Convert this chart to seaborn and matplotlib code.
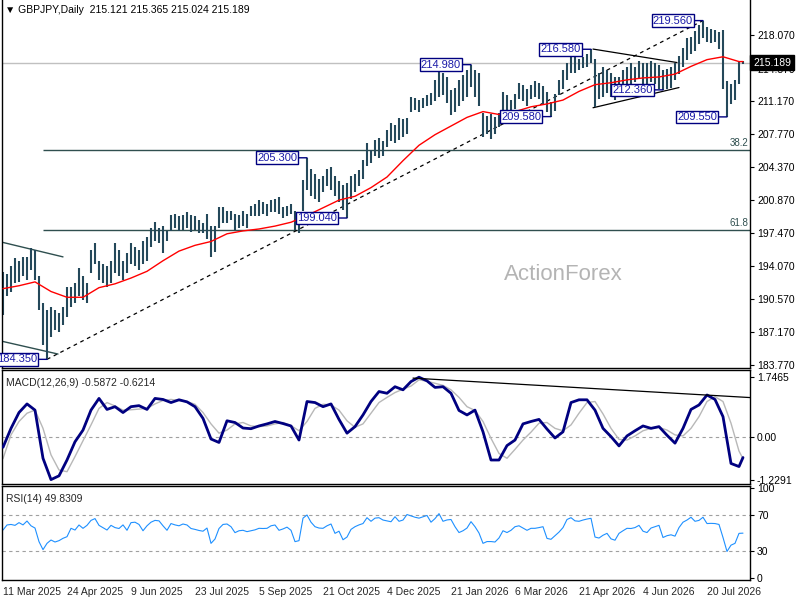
import numpy as np
import pandas as pd
import matplotlib
matplotlib.use('Agg')
import matplotlib.pyplot as plt
import matplotlib.transforms as mtransforms
import seaborn as sns

symbol = 'GBPJPY,Daily'
last_ohlc = [215.121, 215.365, 215.024, 215.189]

# one bar for every second trading day, 11 Mar 2025 .. Aug 2026
bar_high = [
    193.4, 193.2, 194.0, 194.9, 194.6, 195.0, 195.0, 195.9, 195.7, 193.0,
    190.2, 189.5, 189.8, 189.5, 189.2, 189.8, 191.9, 191.9, 192.3, 193.8,
    193.0, 192.3, 195.7, 196.4, 194.6, 194.3, 194.0, 194.6, 196.4, 195.7,
    194.6, 195.4, 196.4, 196.0, 195.7, 196.7, 197.1, 198.0, 198.6, 198.0,
    198.2, 197.7, 199.4, 199.5, 199.2, 199.4, 199.7, 199.4, 199.2, 198.8,
    198.5, 199.5, 198.2, 198.2, 200.2, 200.2, 199.8, 199.8, 199.5, 199.4,
    199.8, 199.5, 200.3, 200.5, 200.9, 200.7, 200.5, 200.9, 201.0, 201.2,
    200.2, 200.3, 200.5, 199.8, 199.5, 203.0, 205.3, 204.1, 203.6, 203.1,
    203.4, 204.1, 204.3, 203.4, 202.9, 202.5, 202.7, 203.4, 203.6, 204.0,
    205.1, 206.8, 206.1, 207.2, 207.4, 207.0, 208.2, 208.9, 208.7, 209.4,
    209.3, 209.4, 211.6, 211.5, 211.3, 211.5, 211.8, 212.0, 213.4, 214.4,
    214.1, 213.7, 212.3, 212.6, 213.4, 213.9, 214.4, 214.98, 214.4, 214.1,
    210.0, 209.6, 209.8, 209.5, 210.0, 212.1, 211.8, 211.3, 211.9, 213.1,
    212.9, 212.4, 212.9, 213.3, 213.1, 212.8, 212.1, 211.1, 211.9, 213.4,
    214.4, 215.1, 215.9, 215.8, 215.6, 215.8, 216.1, 216.58, 215.6, 214.1,
    214.7, 214.4, 214.1, 213.7, 213.7, 214.4, 214.7, 215.1, 214.7, 215.4,
    215.2, 215.1, 215.4, 215.2, 214.9, 214.4, 214.5, 214.7, 215.1, 215.9,
    216.7, 217.8, 217.9, 218.5, 219.1, 219.56, 218.9, 218.7, 218.6, 218.4,
    218.6, 213.3, 213.0, 213.4, 215.3, 215.365,
]
bar_low = [
    189.0, 190.9, 191.3, 192.3, 192.4, 193.0, 192.6, 193.6, 192.6, 189.5,
    185.8, 184.35, 186.7, 187.4, 187.2, 187.9, 188.8, 189.8, 190.2, 190.9,
    190.5, 190.2, 193.3, 194.3, 192.6, 192.3, 191.9, 192.3, 193.3, 193.0,
    192.6, 193.3, 194.3, 194.0, 193.6, 194.3, 194.6, 196.0, 196.7, 196.4,
    195.4, 196.7, 197.7, 198.0, 197.7, 197.8, 198.0, 197.6, 197.8, 197.5,
    197.5, 196.9, 195.0, 195.5, 198.0, 198.5, 198.5, 198.8, 197.8, 198.0,
    198.2, 198.0, 199.3, 199.3, 199.2, 199.5, 199.3, 199.7, 199.7, 199.5,
    199.0, 199.3, 199.5, 197.8, 197.5, 199.8, 201.9, 201.3, 201.0, 200.7,
    201.7, 202.4, 202.0, 201.3, 200.7, 199.9, 199.04, 201.0, 201.7, 202.4,
    203.1, 204.4, 204.8, 205.5, 205.3, 205.5, 206.4, 207.0, 206.8, 207.1,
    207.5, 207.8, 210.1, 210.3, 210.1, 210.5, 210.7, 210.8, 211.2, 211.6,
    211.8, 211.0, 209.7, 210.1, 210.7, 211.2, 211.6, 212.7, 211.6, 210.7,
    207.5, 207.8, 207.3, 207.8, 208.5, 209.3, 209.7, 209.0, 210.4, 211.4,
    211.2, 210.7, 211.4, 211.6, 211.4, 210.9, 210.1, 209.58, 210.2, 211.8,
    212.4, 213.4, 214.1, 214.1, 214.4, 214.6, 214.7, 215.1, 210.6, 211.4,
    211.6, 212.0, 211.6, 211.3, 212.0, 212.7, 212.9, 213.0, 213.2, 213.6,
    213.0, 212.7, 213.2, 213.0, 212.5, 212.36, 212.5, 212.6, 213.4, 214.0,
    214.7, 215.5, 216.1, 216.4, 217.1, 217.8, 217.3, 217.2, 217.3, 216.6,
    212.5, 209.55, 210.9, 211.3, 213.0, 215.024,
]
rsi = [
    53.3, 58.9, 59.5, 58.5, 61.5, 59.0, 63.3, 58.0, 55.5, 40.4,
    31.5, 38.5, 42.2, 40.0, 41.5, 44.1, 45.9, 55.2, 53.3, 58.9,
    55.2, 58.5, 64.0, 66.0, 58.5, 55.9, 53.3, 58.5, 56.0, 55.0,
    59.0, 53.0, 61.5, 62.0, 59.5, 52.5, 58.0, 62.0, 64.0, 63.5,
    58.0, 53.0, 60.5, 59.0, 58.0, 60.0, 58.9, 55.0, 54.0, 52.8,
    52.0, 55.5, 38.5, 43.3, 55.0, 59.5, 60.0, 57.0, 50.4, 52.5,
    53.0, 51.5, 52.5, 53.5, 55.2, 55.0, 55.2, 58.0, 58.9, 53.0,
    54.5, 56.5, 53.0, 40.4, 41.5, 66.5, 70.0, 62.0, 57.0, 55.5,
    55.2, 58.0, 60.0, 49.6, 52.0, 42.5, 45.5, 54.0, 57.0, 59.0,
    60.5, 67.0, 63.0, 66.5, 67.0, 64.4, 63.5, 62.5, 68.1, 63.0,
    64.4, 70.5, 69.0, 67.5, 66.5, 68.0, 69.5, 62.0, 66.0, 71.5,
    63.0, 64.5, 65.0, 57.0, 50.5, 52.5, 55.5, 62.6, 57.0, 50.0,
    38.5, 40.5, 40.5, 40.0, 44.5, 52.5, 50.5, 53.0, 57.0, 58.0,
    55.5, 53.0, 55.2, 55.2, 56.0, 57.0, 44.0, 43.0, 47.0, 51.0,
    56.0, 65.0, 67.0, 63.5, 63.0, 64.4, 65.5, 66.3, 45.5, 44.4,
    47.5, 49.6, 43.5, 42.0, 49.6, 52.5, 55.2, 55.0, 56.0, 58.5,
    52.0, 50.5, 55.5, 57.0, 58.5, 45.0, 47.0, 48.0, 46.5, 56.0,
    62.0, 64.4, 67.5, 63.0, 64.0, 67.5, 60.5, 60.7, 60.5, 59.5,
    45.0, 29.5, 36.5, 38.5, 49.6, 49.83,
]
bar_days = list(range(0, 2 * len(bar_high), 2))

# 55 day moving average, read every 8 trading days
ma_vals = [
    191.7, 192.0, 192.4, 191.4, 190.8, 190.8, 191.8, 192.2, 192.8, 193.5,
    194.6, 195.6, 196.2, 196.6, 197.4, 197.7, 197.9, 198.2, 198.6, 199.3,
    200.1, 200.9, 201.3, 202.2, 203.3, 205.0, 206.6, 207.7, 208.6, 209.5,
    210.1, 209.8, 210.1, 210.6, 210.9, 211.3, 212.2, 212.9, 213.1, 213.4,
    213.6, 213.7, 214.0, 214.8, 215.5, 215.8, 215.3, 215.3,
]
ma_days = list(range(0, 369, 8)) + [370]

# MACD(12,26,9), read every 4 trading days
macd_main = [
    -0.29, 0.26, 0.72, 0.97, 0.79, -0.61, -1.2291, -1.12, -0.66, -0.13,
    0.21, 0.79, 1.13, 0.81, 0.89, 0.72, 0.89, 0.92, 0.81, 1.13,
    1.10, 1.01, 1.09, 1.03, 0.89, 0.55, -0.05, -0.15, 0.48, 0.43,
    0.27, 0.25, 0.33, 0.39, 0.46, 0.40, 0.33, -0.08, 1.04, 1.01,
    0.89, 0.97, 0.52, 0.12, 0.31, 0.65, 1.04, 1.33, 1.28, 1.47,
    1.38, 1.62, 1.7465, 1.64, 1.45, 1.47, 1.28, 0.78, 0.65, 0.79,
    0.16, -0.66, -0.66, -0.24, -0.08, 0.39, 0.46, 0.52, 0.24, -0.02,
    0.16, 1.01, 1.09, 1.09, 0.79, 0.26, 0.02, -0.25, 0.04, 0.19,
    0.33, 0.26, 0.31, 0.06, -0.17, 0.26, 0.81, 0.94, 1.23, 1.10,
    0.60, -0.76, -0.85, -0.5872,
]
macd_signal = [
    -0.62, 0.07, 0.46, 0.70, 0.79, 0.26, -0.51, -0.95, -1.00, -0.56,
    -0.10, 0.36, 0.84, 1.01, 0.91, 0.79, 0.80, 0.82, 0.84, 0.97,
    1.07, 1.10, 1.07, 1.04, 0.96, 0.72, 0.39, 0.12, 0.21, 0.39,
    0.43, 0.33, 0.31, 0.33, 0.39, 0.43, 0.34, 0.19, 0.46, 0.84,
    0.96, 0.94, 0.79, 0.48, 0.29, 0.39, 0.70, 1.01, 1.16, 1.30,
    1.40, 1.49, 1.67, 1.63, 1.57, 1.51, 1.38, 1.16, 0.89, 0.78,
    0.46, -0.03, -0.47, -0.61, -0.35, -0.08, 0.15, 0.41, 0.43, 0.26,
    0.19, 0.36, 0.70, 1.01, 1.04, 0.68, 0.26, -0.06, -0.08, 0.04,
    0.19, 0.26, 0.29, 0.21, 0.07, 0.04, 0.26, 0.60, 1.04, 1.18,
    1.04, 0.41, -0.40, -0.6214,
]
macd_days = list(range(0, 369, 4)) + [370]

date_labels = ['11 Mar 2025', '24 Apr 2025', '9 Jun 2025', '23 Jul 2025',
               '5 Sep 2025', '21 Oct 2025', '4 Dec 2025', '21 Jan 2026',
               '6 Mar 2026', '21 Apr 2026', '4 Jun 2026', '20 Jul 2026']
price_ticks = [218.07, 214.57, 211.17, 207.77, 204.37, 200.87,
               197.47, 194.07, 190.57, 187.17, 183.77]
pivot_highs = [205.3, 214.98, 216.58, 219.56]
pivot_lows = [184.35, 199.04, 209.58, 212.36, 209.55]
fib_ratios = [0.382, 0.618]

# hand drawn lines: (day, price) pairs
channel_lines = [[(-2, 196.6), (30, 195.0)], [(-2, 186.3), (27.5, 184.9)]]
triangle_lines = [[(295, 216.6), (337, 215.2)], [(295, 210.5), (338, 212.6)]]
macd_trend = [(205, 1.72), (375, 1.15)]

sns.set_style('white')
plt.rcParams['font.family'] = ['Liberation Sans', 'DejaVu Sans']

bar_col = '#24485a'
navy = '#000080'
fig = plt.figure(figsize=(8, 6), dpi=100)
ax_p = fig.add_axes([2 / 800, 1 - 368 / 600, 748 / 800, 368 / 600])
ax_m = fig.add_axes([2 / 800, 1 - 484 / 600, 748 / 800, 114 / 600])
ax_r = fig.add_axes([2 / 800, 1 - 580 / 600, 748 / 800, 94 / 600])
xmin, xmax = -0.5, 373.5
for ax in (ax_p, ax_m, ax_r):
    ax.set_xlim(xmin, xmax)
    for s in ax.spines.values():
        s.set_color('black')
        s.set_linewidth(1)
    ax.yaxis.tick_right()
    ax.tick_params(axis='y', direction='out', length=3, labelsize=7.5,
                   pad=2, colors='black')
    ax.set_xlabel('')
    ax.set_ylabel('')
ax_p.spines['top'].set_visible(False)

# ---- price panel
ax_p.set_ylim(183.45, 221.7)
last_close = last_ohlc[3]
ax_p.axhline(last_close, color='#c0c0c0', lw=1, zorder=0.5)
ax_p.vlines(bar_days, bar_low, bar_high, color=bar_col, lw=1.5, zorder=2)
sns.lineplot(x=ma_days, y=ma_vals, ax=ax_p, color='red', lw=1, sort=False,
             legend=False, zorder=3)

lo, hi = min(bar_low), max(bar_high)
lo_day = bar_days[bar_low.index(lo)]
hi_day = bar_days[bar_high.index(hi)]
for r in fib_ratios:
    lvl = hi - r * (hi - lo)
    ax_p.hlines(lvl, lo_day - 2, xmax, color='#2f4f4f', lw=1, zorder=1)
    ax_p.text(372.5, lvl + 0.25, f'{r * 100:.1f}', ha='right', va='bottom',
              fontsize=7, color='#2f4f4f')
ax_p.plot([lo_day, hi_day], [lo, hi], color='black', lw=0.9,
          ls=(0, (3, 3)), zorder=1.5)
for seg in channel_lines:
    ax_p.plot(*zip(*seg), color='#2f4f4f', lw=1, zorder=1.5)
for seg in triangle_lines:
    ax_p.plot(*zip(*seg), color='black', lw=0.9, zorder=1.5)

tag_style = dict(textcoords='offset pixels', ha='right', va='center',
                 fontsize=8, color='#1a1aa8',
                 bbox=dict(boxstyle='square,pad=0.12', fc='white', ec=navy, lw=1),
                 arrowprops=dict(arrowstyle='-', color=navy, lw=1,
                                 shrinkA=0, shrinkB=0),
                 zorder=6)
for v in pivot_highs:
    d = bar_days[bar_high.index(v)]
    a = ax_p.annotate(f'{v:.3f}', xy=(d, v), xytext=(-10, 0), **tag_style)
    a.set_clip_on(True)
for v in pivot_lows:
    d = bar_days[bar_low.index(v)]
    a = ax_p.annotate(f'{v:.3f}', xy=(d, v), xytext=(-10, 0), **tag_style)
    a.set_clip_on(True)

ax_p.set_yticks(price_ticks)
ax_p.set_yticklabels([f'{t:.3f}' for t in price_ticks])
ax_p.set_xticks([])
trans = mtransforms.blended_transform_factory(ax_p.transAxes, ax_p.transData)
ax_p.text(1.004, last_close, f'{last_close:.3f}', transform=trans,
          ha='left', va='center', fontsize=7.5, color='white',
          bbox=dict(boxstyle='square,pad=0.25', fc='black', ec='black'),
          clip_on=False, zorder=10)
ax_p.text(0.75, 0.253, 'ActionForex', transform=ax_p.transAxes, ha='center',
          va='center', fontsize=16, color='#b4b4b4', zorder=0.2)

fig.text(5 / 800, 1 - 10 / 600,
         '\u25bc ' + symbol + '  ' + ' '.join(f'{v:.3f}' for v in last_ohlc),
         ha='left', va='center', fontsize=7.5, color='black')

# ---- MACD panel
mmax = max(max(macd_main), max(macd_signal))
mmin = min(min(macd_main), min(macd_signal))
ax_m.set_ylim(-1.357, 1.956)
ax_m.axhline(0, color='#a0a0a0', lw=0.8, ls=(0, (3, 3)), zorder=1)
sns.lineplot(x=macd_days, y=macd_signal, ax=ax_m, color='#b8b8b8', lw=1,
             sort=False, legend=False, zorder=2)
sns.lineplot(x=macd_days, y=macd_main, ax=ax_m, color=navy, lw=2.0,
             sort=False, legend=False, zorder=3)
ax_m.plot(*zip(*macd_trend), color='black', lw=0.9, zorder=4)
ax_m.set_yticks([mmax, 0, mmin])
ax_m.set_yticklabels([f'{mmax:.4f}', '0.00', f'{mmin:.4f}'])
ax_m.set_xticks([])
ax_m.text(0.006, 0.93, f'MACD(12,26,9) {macd_main[-1]:.4f} {macd_signal[-1]:.4f}',
          transform=ax_m.transAxes, ha='left', va='top', fontsize=7.5)

# ---- RSI panel
ax_r.set_ylim(-2.2, 102.2)
for lvl in (70, 30):
    ax_r.axhline(lvl, color='#a0a0a0', lw=0.8, ls=(0, (3, 3)), zorder=1)
sns.lineplot(x=bar_days, y=rsi, ax=ax_r, color='#1e90ff', lw=0.8,
             sort=False, legend=False, zorder=2)
ax_r.set_yticks([100, 70, 30, 0])
ax_r.set_yticklabels(['100', '70', '30', '0'])
ax_r.text(0.006, 0.92, 'RSI(14) 49.8309', transform=ax_r.transAxes,
          ha='left', va='top', fontsize=7.5)
ax_r.set_xticks(np.arange(len(date_labels)) * 32)
ax_r.set_xticklabels(date_labels)
ax_r.tick_params(axis='x', direction='out', length=3, labelsize=7.5, pad=2)
for lbl in ax_r.get_xticklabels():
    lbl.set_ha('left')

fig.savefig('out.png', dpi=100, facecolor='white')
